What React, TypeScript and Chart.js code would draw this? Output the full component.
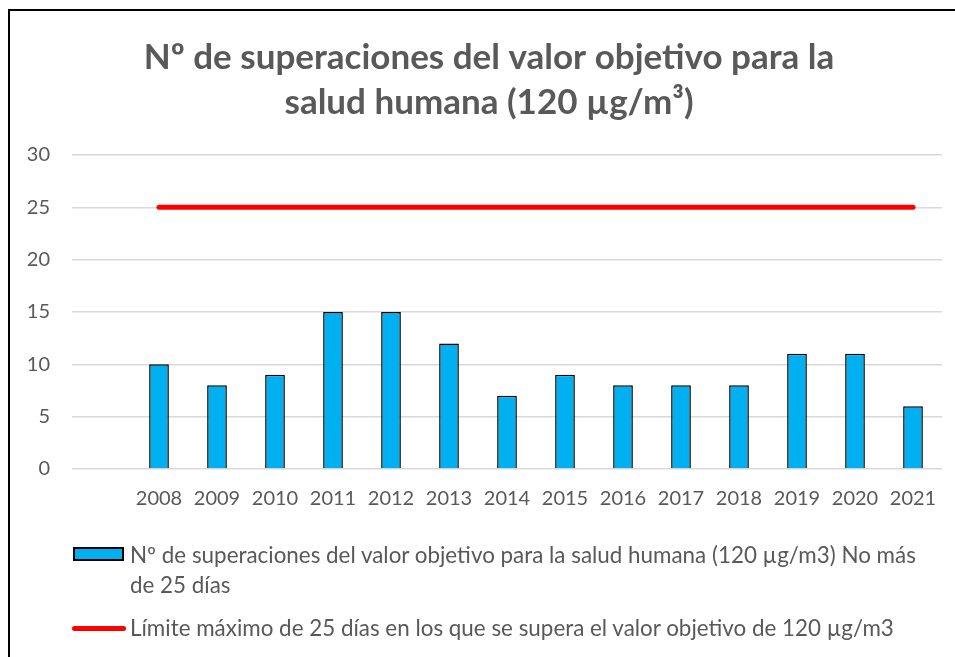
import React, { useEffect, useRef } from "react";
import { Chart, registerables } from "chart.js";

Chart.register(...registerables);

const categories = ["", "2008", "2009", "2010", "2011", "2012", "2013", "2014", "2015", "2016", "2017", "2018", "2019", "2020", "2021"];
const exceedances = [null, 10, 8, 9, 15, 15, 12, 7, 9, 8, 8, 8, 11, 11, 6];
const limitValues = [null, 25, 25, 25, 25, 25, 25, 25, 25, 25, 25, 25, 25, 25, 25];
const yTicks = [0, 5, 10, 15, 20, 25, 30];

const titleLines = ["Nº de superaciones del valor objetivo para la", "salud humana (120 µg/m³)"];
const barLabelLines = ["Nº de superaciones del valor objetivo para la salud humana (120 µg/m3) No más", "de 25 días"];
const barLabel = barLabelLines.join(" ");
const lineLabel = "Límite máximo de 25 días en los que se supera el valor objetivo de 120 µg/m3";

const FONT = "Lato, 'Open Sans', sans-serif";
const GREY = "#595959";

export default function App() {
  const ref = useRef<HTMLCanvasElement | null>(null);

  useEffect(() => {
    document.body.style.margin = "0";
    document.body.style.overflow = "hidden";
    const ctx = ref.current;
    if (!ctx) return;
    const chart = new Chart(ctx, {
      type: "bar",
      data: {
        labels: categories,
        datasets: [
          {
            type: "line",
            label: lineLabel,
            data: limitValues,
            borderColor: "#FF0000",
            backgroundColor: "#FF0000",
            borderWidth: 5,
            borderCapStyle: "round",
            pointRadius: 0,
            fill: false,
            order: 0,
          } as any,
          {
            type: "bar",
            label: barLabel,
            data: exceedances,
            backgroundColor: "#00B0F0",
            borderColor: "#000000",
            borderWidth: 1.5,
            categoryPercentage: 1,
            barPercentage: 0.34,
            order: 1,
          } as any,
        ],
      },
      options: {
        responsive: false,
        animation: false,
        layout: { padding: { left: 0, right: 0, top: 0, bottom: 147 } },
        plugins: {
          legend: { display: false },
          tooltip: { enabled: false },
          title: {
            display: true,
            text: titleLines,
            color: GREY,
            font: { family: FONT, size: 35, weight: "bold", lineHeight: 1.286 },
            padding: { top: 35, bottom: 30 },
          },
        },
        scales: {
          x: {
            grid: { display: false, drawTicks: false },
            border: { display: false },
            ticks: {
              color: GREY,
              font: { family: FONT, size: 20 },
              padding: 18,
              maxRotation: 0,
              autoSkip: false,
            },
            afterFit: (s: any) => {
              s.height = 41;
            },
          },
          y: {
            min: 0,
            max: 30,
            afterBuildTicks: (s: any) => {
              s.ticks = yTicks.map((v) => ({ value: v }));
            },
            grid: { color: "#D9D9D9", lineWidth: 1.5, drawTicks: false },
            border: { display: false },
            ticks: {
              color: GREY,
              font: { family: FONT, size: 20 },
              padding: 22,
            },
            afterFit: (s: any) => {
              s.width = 72;
            },
          },
          spacer: {
            position: "right",
            display: true,
            min: 0,
            max: 30,
            grid: { display: false, drawTicks: false },
            border: { display: false },
            ticks: { display: false },
            afterFit: (s: any) => {
              s.width = 36;
            },
          },
        },
      } as any,
    });
    return () => chart.destroy();
  }, []);

  return (
    <div style={{ position: "fixed", left: 0, top: 0, width: 955, height: 657, overflow: "hidden", background: "#fff" }}>
      <div style={{ position: "absolute", left: 8, top: 9, width: 1000, height: 700, borderLeft: "2px solid #000", borderTop: "2px solid #000" }} />
      <canvas ref={ref} width={978} height={657} style={{ position: "absolute", left: 0, top: 0 }} />
      <div style={{ position: "absolute", left: 73, top: 547, width: 47, height: 10, border: "2px solid #000", background: "#00B0F0" }} />
      <div style={{ position: "absolute", left: 130, top: 540, fontFamily: FONT, fontSize: 22.4, lineHeight: "30px", color: GREY, whiteSpace: "nowrap" }}>
        {barLabelLines[0]}
        <br />
        {barLabelLines[1]}
      </div>
      <div style={{ position: "absolute", left: 72, top: 626, width: 54, height: 5, borderRadius: 3, background: "#FF0000" }} />
      <div style={{ position: "absolute", left: 130, top: 613, fontFamily: FONT, fontSize: 22.4, lineHeight: "30px", color: GREY, whiteSpace: "nowrap" }}>
        {lineLabel}
      </div>
    </div>
  );
}
